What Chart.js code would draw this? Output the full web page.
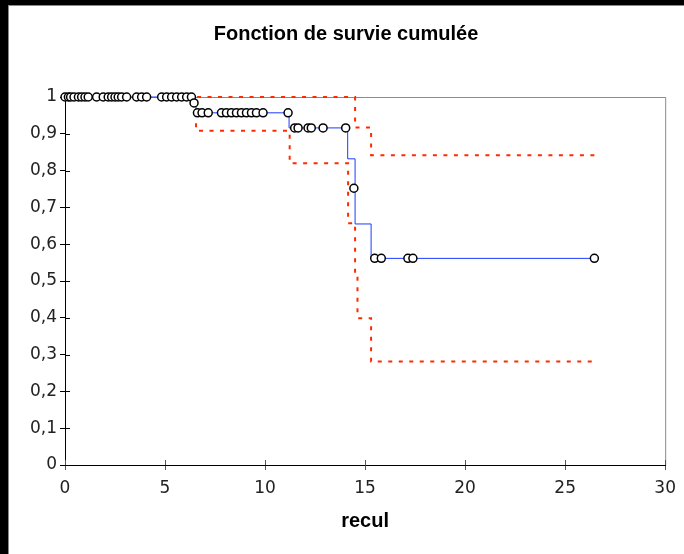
<!DOCTYPE html>
<html>
<head>
<meta charset="utf-8">
<script src="https://cdn.jsdelivr.net/npm/chart.js@4/dist/chart.umd.min.js"></script>
<style>
  html, body { margin: 0; padding: 0; background: #fff; overflow: hidden; }
  #wrap { position: absolute; left: 0; top: 0; width: 684px; height: 554px; }
  canvas { position: absolute; left: 0; top: 0; }
  .blk-top { position: absolute; left: 0; top: 0; width: 684px; height: 5px; background: #000; }
  .gry-top { position: absolute; left: 8px; top: 5px; width: 676px; height: 1px; background: #8a8a8a; }
  .blk-left { position: absolute; left: 0; top: 0; width: 8px; height: 554px; background: #000; }
  .gry-left { position: absolute; left: 8px; top: 5px; width: 1px; height: 549px; background: #8a8a8a; }
</style>
</head>
<body>
<div id="wrap">
  <canvas id="c" width="684" height="554"></canvas>
  <div class="blk-top"></div><div class="gry-top"></div>
  <div class="blk-left"></div><div class="gry-left"></div>
</div>
<script>
// Kaplan-Meier estimate (step points)
const kmTimes = [0, 6.4, 6.55, 11.2, 14.13, 14.5, 15.3, 26.46];
const kmSurv  = [1, 0.984, 0.957, 0.916, 0.832, 0.655, 0.5615, 0.5615];

// Lower confidence bound
const lowTimes = [6.55, 6.55, 11.23, 14.15, 14.5, 14.62, 15.3, 26.46];
const lowSurv  = [0.957, 0.908, 0.82, 0.657, 0.522, 0.399, 0.281, 0.281];

// Upper confidence bound
const upTimes = [6.6, 14.5, 15.3, 26.46];
const upSurv  = [1, 0.917, 0.842, 0.842];

// Censored observations
const censTimes = [0, 0.17, 0.28, 0.45, 0.67, 0.83, 1.0, 1.16, 1.58, 1.91, 2.16, 2.33, 2.5, 2.66, 2.83, 3.08, 3.58, 3.83, 4.08, 4.83, 5.08, 5.33, 5.58, 5.83, 6.08, 6.32,
                   6.45,
                   6.62, 6.85, 7.16, 7.82, 8.07, 8.32, 8.57, 8.82, 9.07, 9.32, 9.57, 9.9, 11.15,
                   11.48, 11.65, 12.15, 12.31, 12.9, 14.03,
                   14.44,
                   15.48, 15.81, 17.14, 17.39, 26.46];
const censSurv  = [1, 1, 1, 1, 1, 1, 1, 1, 1, 1, 1, 1, 1, 1, 1, 1, 1, 1, 1, 1, 1, 1, 1, 1, 1, 1,
                   0.984,
                   0.957, 0.957, 0.957, 0.957, 0.957, 0.957, 0.957, 0.957, 0.957, 0.957, 0.957, 0.957, 0.957,
                   0.916, 0.916, 0.916, 0.916, 0.916, 0.916,
                   0.752,
                   0.5615, 0.5615, 0.5615, 0.5615, 0.5615];

const yTickLabels = ['0', '0,1', '0,2', '0,3', '0,4', '0,5', '0,6', '0,7', '0,8', '0,9', '1'];
const xTickLabels = ['0', '5', '10', '15', '20', '25', '30'];

const toPts = (xs, ys) => xs.map((x, i) => ({ x: x, y: ys[i] }));

const framePlugin = {
  id: 'frame',
  beforeDatasetsDraw(chart) {
    const { ctx, chartArea: a, scales } = chart;
    ctx.save();
    ctx.strokeStyle = '#8a8a8a';
    ctx.lineWidth = 1;
    ctx.beginPath();
    ctx.moveTo(a.left, a.top + 0.5);
    ctx.lineTo(a.right + 0.5, a.top + 0.5);
    ctx.lineTo(a.right + 0.5, a.bottom);
    ctx.stroke();
    // inner halves of the crossing ticks
    ctx.strokeStyle = '#000';
    ctx.beginPath();
    scales.y.ticks.forEach(t => {
      const py = Math.round(scales.y.getPixelForValue(t.value)) + 0.5;
      ctx.moveTo(a.left, py); ctx.lineTo(a.left + 5, py);
    });
    ctx.stroke();
    ctx.strokeStyle = '#555';
    ctx.beginPath();
    scales.x.ticks.forEach(t => {
      const px = Math.round(scales.x.getPixelForValue(t.value)) + 0.5;
      ctx.moveTo(px, a.bottom); ctx.lineTo(px, a.bottom - 5);
    });
    ctx.stroke();
    ctx.restore();
  }
};

new Chart(document.getElementById('c'), {
  type: 'scatter',
  data: {
    datasets: [
      {
        data: toPts(censTimes, censSurv),
        showLine: false,
        clip: false,
        pointStyle: 'circle',
        pointRadius: 4,
        pointBorderWidth: 1.5,
        pointBorderColor: '#000',
        pointBackgroundColor: '#fff',
        order: 0
      },
      {
        data: toPts(kmTimes, kmSurv),
        showLine: true,
        clip: false,
        stepped: 'before',
        borderColor: '#1a3cff',
        borderWidth: 1,
        pointRadius: 0,
        order: 2
      },
      {
        data: toPts(lowTimes, lowSurv),
        showLine: true,
        clip: false,
        stepped: 'before',
        borderColor: '#ff2a00',
        borderWidth: 2,
        borderDash: [4, 6.5],
        pointRadius: 0,
        order: 1
      },
      {
        data: toPts(upTimes, upSurv),
        showLine: true,
        clip: false,
        stepped: 'before',
        borderColor: '#ff2a00',
        borderWidth: 2,
        borderDash: [4, 6.5],
        pointRadius: 0,
        order: 1
      }
    ]
  },
  options: {
    responsive: false,
    animation: false,
    devicePixelRatio: 1,
    layout: { padding: { left: 26, right: 18, top: 0, bottom: 0 } },
    plugins: {
      legend: { display: false },
      tooltip: { enabled: false },
      title: {
        display: true,
        text: 'Fonction de survie cumulée',
        color: '#000',
        font: { family: '"Liberation Sans", Arial, sans-serif', size: 20, weight: 'bold' },
        padding: { top: 22, bottom: 51 }
      }
    },
    scales: {
      x: {
        type: 'linear',
        min: 0, max: 30,
        ticks: {
          stepSize: 5,
          color: '#222',
          padding: 8,
          font: { family: '"DejaVu Sans", sans-serif', size: 17 },
          callback: (v) => xTickLabels[Math.round(v / 5)]
        },
        grid: { display: true, drawOnChartArea: false, drawTicks: true, tickLength: 5, color: '#555' },
        border: { display: true, color: '#000', width: 1 },
        title: {
          display: true,
          text: 'recul',
          color: '#000',
          font: { family: '"Liberation Sans", Arial, sans-serif', size: 20, weight: 'bold' },
          padding: { top: 0, bottom: 21 }
        },
        afterFit: (s) => { s.height = 89; }
      },
      y: {
        min: 0, max: 1,
        ticks: {
          stepSize: 0.1,
          color: '#222',
          padding: 3,
          font: { family: '"DejaVu Sans", sans-serif', size: 17 },
          callback: (v) => yTickLabels[Math.round(v * 10)]
        },
        grid: { display: true, drawOnChartArea: false, drawTicks: true, tickLength: 5, color: '#000' },
        border: { display: true, color: '#000', width: 1 },
        afterFit: (s) => { s.width = 39; }
      }
    }
  },
  plugins: [framePlugin]
});
</script>
</body>
</html>
